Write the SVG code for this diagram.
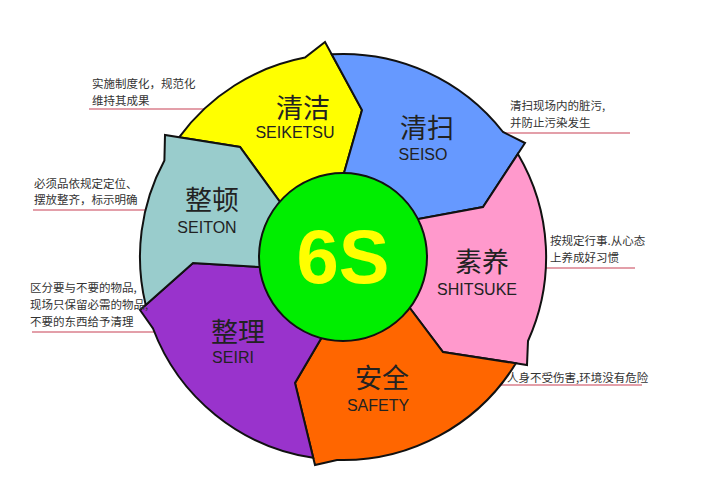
<svg xmlns="http://www.w3.org/2000/svg" width="707" height="485" viewBox="0 0 707 485">
<style>
.seg{stroke:#111;stroke-width:2;stroke-linejoin:miter}
.cn{font-family:"Noto Sans CJK SC",sans-serif;font-size:27px;fill:#222;text-anchor:middle}
.en{font-family:"Liberation Sans",sans-serif;font-size:16px;fill:#222;text-anchor:middle}
.note{font-family:"Noto Sans CJK SC",sans-serif;font-size:11.5px;fill:#333}
.rl{stroke:#c84055;stroke-width:1.2}
</style>
<rect width="707" height="485" fill="#fff"/>
<g id="connectors">
<line class="rl" x1="89" y1="109" x2="275" y2="109"/>
<line class="rl" x1="33" y1="210" x2="172" y2="210"/>
<line class="rl" x1="32" y1="332" x2="200" y2="332"/>
<line class="rl" x1="462" y1="133" x2="630" y2="133"/>
<line class="rl" x1="517" y1="268" x2="635" y2="268"/>
<line class="rl" x1="418" y1="385" x2="642" y2="385"/>
</g>
<g id="ring">
<path id="yellow" class="seg" fill="#ffff00" d="M179.1,137.3 L240,147 L288,213 L340,187 L362,110 L325,42 L305,57.6 A203,203 0 0 0 179.1,137.3 Z"/>
<path id="blue" class="seg" fill="#6699ff" d="M331.7,54.3 L362,110 L340,187 L402,222 L483,207 L525,143 L503,132 A203,203 0 0 0 331.7,54.3 Z"/>
<path id="pink" class="seg" fill="#ff99cc" d="M517.9,153.9 L483,207 L402,222 L400,295 L443,352 L527,365 L528,341 A203,203 0 0 0 517.9,153.9 Z"/>
<path id="orange" class="seg" fill="#ff6600" d="M515.9,363.3 L443,352 L400,295 L332,320 L295,383 L315,465 L337,460 A203,203 0 0 0 515.9,363.3 Z"/>
<path id="purple" class="seg" fill="#9933cc" d="M313.2,457.8 L295,383 L332,320 L277,268 L193,263 L140,310 L153,328.5 A203,203 0 0 0 313.2,457.8 Z"/>
<path id="teal" class="seg" fill="#99cccc" d="M145.7,304.9 L193,263 L277,268 L288,213 L240,147 L165,135 L164.4,160.4 A203,203 0 0 0 145.7,304.9 Z"/>
</g>
<g id="center">
<circle cx="343" cy="257" r="84" fill="#00ee00" stroke="#111" stroke-width="2"/>
<text x="343" y="283" font-family="Liberation Sans,sans-serif" font-weight="bold" font-size="76" fill="#ffff00" text-anchor="middle">6S</text>
</g>
<g id="n-seiketsu"><text class="cn" x="303" y="118">清洁</text><text class="en" x="295" y="138">SEIKETSU</text></g>
<g id="n-seiso"><text class="cn" x="427" y="138">清扫</text><text class="en" x="423" y="160">SEISO</text></g>
<g id="n-seiton"><text class="cn" x="212" y="210">整顿</text><text class="en" x="207" y="233">SEITON</text></g>
<g id="n-shitsuke"><text class="cn" x="482" y="272">素养</text><text class="en" x="477" y="295">SHITSUKE</text></g>
<g id="n-seiri"><text class="cn" x="238" y="342">整理</text><text class="en" x="233" y="363">SEIRI</text></g>
<g id="n-safety"><text class="cn" x="382" y="388">安全</text><text class="en" x="378" y="411">SAFETY</text></g>
<g id="notes">
<text class="note" x="92" y="88">实施制度化，规范化</text>
<text class="note" x="92" y="105">维持其成果</text>
<text class="note" x="34" y="188">必须品依规定定位、</text>
<text class="note" x="34" y="204">摆放整齐，标示明确</text>
<text class="note" x="30" y="292">区分要与不要的物品,</text>
<text class="note" x="30" y="309">现场只保留必需的物品,</text>
<text class="note" x="30" y="326">不要的东西给予清理</text>
<text class="note" x="510" y="110">清扫现场内的脏污,</text>
<text class="note" x="510" y="127">并防止污染发生</text>
<text class="note" x="550" y="245">按规定行事.从心态</text>
<text class="note" x="550" y="262">上养成好习惯</text>
<text class="note" x="507" y="382">人身不受伤害,环境没有危险</text>
</g>
</svg>
